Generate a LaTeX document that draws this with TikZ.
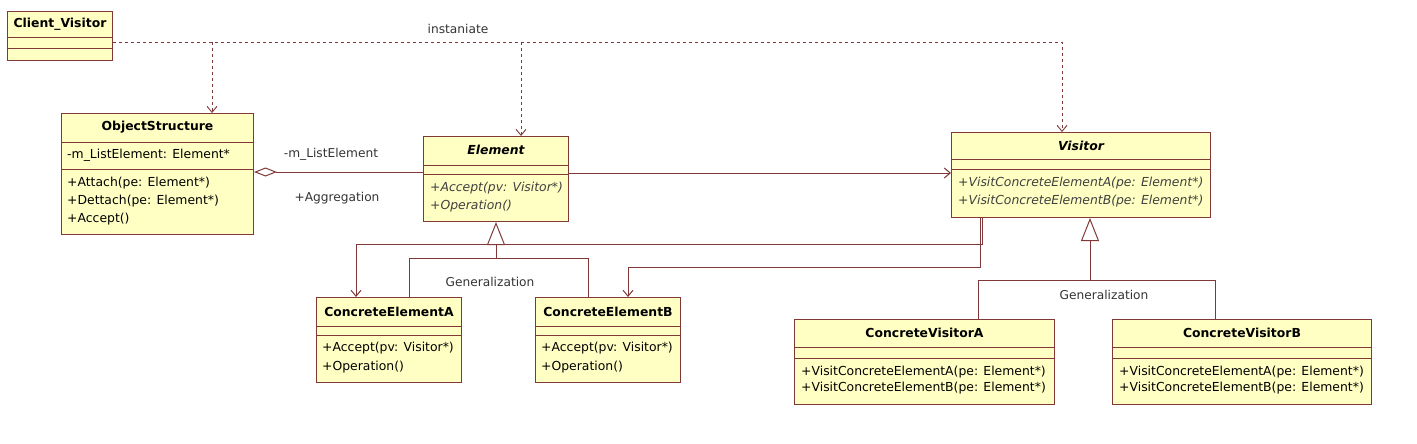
\documentclass[tikz,border=0pt]{standalone}
\usepackage{fontspec}
\setmainfont{DejaVu Sans}
\usetikzlibrary{arrows.meta}
\definecolor{umlfill}{RGB}{255,255,196}
\definecolor{umlline}{RGB}{128,56,56}
\tikzset{
  umlbox/.style={draw=umlline,fill=umlfill,line width=1pt,anchor=north west,inner sep=0pt},
  divider/.style={draw=umlline,line width=1pt},
  title/.style={font=\fontsize{12.4}{15}\selectfont\bfseries,inner sep=0pt},
  member/.style={font=\fontsize{12.4}{15}\selectfont,anchor=west,inner sep=0pt},
  lbl/.style={font=\fontsize{12.2}{15}\selectfont,text=black!80,inner sep=0pt},
  dep/.style={draw=umlline,line width=0.9pt,dash pattern=on 3pt off 3pt,-{Straight Barb[length=6pt,width=10pt]}},
  assoc/.style={draw=umlline,line width=1pt,-{Straight Barb[length=6pt,width=10pt]}},
  gen/.style={draw=umlline,line width=1pt,-{Triangle[open,length=23pt,width=18pt]}},
  aggr/.style={draw=umlline,line width=1pt,{Diamond[open,length=23pt,width=9pt]}-},
}
\begin{document}
\begin{tikzpicture}[x=1pt,y=-1pt]
  \useasboundingbox (0,0) rectangle (1417,444);
  %classes
  \node[umlbox,minimum width=105pt,minimum height=49pt] (client) at (7,11) {};
  \node[title] at ([yshift=-13.5pt]client.north) {Client\_Visitor};

  \node[umlbox,minimum width=192pt,minimum height=121pt] (objstr) at (61,113) {};
  \node[title] at ([yshift=-14.5pt]objstr.north) {ObjectStructure};
  \node[member] at ([xshift=6pt,yshift=-42pt]objstr.north west) {-m\_ListElement: Element*};
  \node[member] at ([xshift=6pt,yshift=-70pt]objstr.north west) {+Attach(pe: Element*)};
  \node[member] at ([xshift=6pt,yshift=-88pt]objstr.north west) {+Dettach(pe: Element*)};
  \node[member] at ([xshift=6pt,yshift=-106pt]objstr.north west) {+Accept()};

  \node[umlbox,minimum width=145pt,minimum height=85pt] (element) at (423,136) {};
  \node[title] at ([yshift=-14pt]element.north) {\itshape Element};
  \node[member,text=black!75] at ([xshift=7pt,yshift=-52pt]element.north west) {\itshape +Accept(pv: Visitor*)};
  \node[member,text=black!75] at ([xshift=7pt,yshift=-70pt]element.north west) {\itshape +Operation()};

  \node[umlbox,minimum width=259pt,minimum height=85pt] (visitor) at (951,132) {};
  \node[title] at ([yshift=-13.5pt]visitor.north) {\itshape Visitor};
  \node[member,text=black!75] at ([xshift=7pt,yshift=-51pt]visitor.north west) {\itshape +VisitConcreteElementA(pe: Element*)};
  \node[member,text=black!75] at ([xshift=7pt,yshift=-69pt]visitor.north west) {\itshape +VisitConcreteElementB(pe: Element*)};

  \node[umlbox,minimum width=145pt,minimum height=85pt] (cea) at (316,297) {};
  \node[title] at ([yshift=-14.5pt]cea.north) {ConcreteElementA};
  \node[member] at ([xshift=6pt,yshift=-51pt]cea.north west) {+Accept(pv: Visitor*)};
  \node[member] at ([xshift=6pt,yshift=-70pt]cea.north west) {+Operation()};

  \node[umlbox,minimum width=145pt,minimum height=85pt] (ceb) at (535,297) {};
  \node[title] at ([yshift=-14.5pt]ceb.north) {ConcreteElementB};
  \node[member] at ([xshift=6pt,yshift=-51pt]ceb.north west) {+Accept(pv: Visitor*)};
  \node[member] at ([xshift=6pt,yshift=-70pt]ceb.north west) {+Operation()};

  \node[umlbox,minimum width=260pt,minimum height=85pt] (cva) at (794,319) {};
  \node[title] at ([yshift=-14pt]cva.north) {ConcreteVisitorA};
  \node[member] at ([xshift=7pt,yshift=-53pt]cva.north west) {+VisitConcreteElementA(pe: Element*)};
  \node[member] at ([xshift=7pt,yshift=-69pt]cva.north west) {+VisitConcreteElementB(pe: Element*)};

  \node[umlbox,minimum width=259pt,minimum height=85pt] (cvb) at (1112,319) {};
  \node[title] at ([yshift=-14pt]cvb.north) {ConcreteVisitorB};
  \node[member] at ([xshift=7pt,yshift=-53pt]cvb.north west) {+VisitConcreteElementA(pe: Element*)};
  \node[member] at ([xshift=7pt,yshift=-69pt]cvb.north west) {+VisitConcreteElementB(pe: Element*)};

  %compartments
  \foreach \n/\a/\b in {client/27/38, objstr/29/56, element/29/38, visitor/27/37, cea/29/38, ceb/29/38, cva/28/39, cvb/28/39} {
    \draw[divider] ([yshift=-\a pt]\n.north west) -- ([yshift=-\a pt]\n.north east);
    \draw[divider] ([yshift=-\b pt]\n.north west) -- ([yshift=-\b pt]\n.north east);
  }

  %instaniate
  \coordinate (inst) at ([yshift=-31pt]client.north east);
  \coordinate (os) at ([xshift=151pt]objstr.north west);
  \coordinate (el) at ([xshift=98pt]element.north west);
  \draw[dep] (inst) -| ([xshift=111pt]visitor.north west);
  \draw[dep] (inst -| os) -- (os);
  \draw[dep] (inst -| el) -- (el);
  \node[lbl] (instlbl) at (458,29) {instaniate};

  %aggregation
  \coordinate (agg) at ([yshift=-59pt]objstr.north east);
  \draw[aggr] (agg) -- (agg -| element.west);
  \node[lbl] (role) at (331,154) {-m\_ListElement};
  \node[lbl] (agglbl) at (337,198) {+Aggregation};

  %associations
  \coordinate (ev) at ([yshift=-37pt]element.north east);
  \draw[assoc] (ev) -- (ev -| visitor.west);
  \draw[assoc] ([xshift=31pt]visitor.south west) -- ++(0,26) -| ([xshift=40pt]cea.north west);
  \draw[assoc] ([xshift=29pt]visitor.south west) -- ++(0,49) -| ([xshift=93pt]ceb.north west);

  %generalization
  \coordinate (gj) at ([yshift=-36pt]element.south);
  \draw[gen] ([xshift=93pt]cea.north west) |- (gj) -- (element.south);
  \draw[divider] ([xshift=53pt]ceb.north west) |- (gj);
  \node[lbl] (genel) at (490,282) {Generalization};

  \coordinate (vj) at ([xshift=9pt,yshift=-62pt]visitor.south);
  \draw[gen] ([xshift=184pt]cva.north west) |- (vj) -- (vj |- visitor.south);
  \draw[divider] ([xshift=103pt]cvb.north west) |- (vj);
  \node[lbl] (genvis) at (1104,295) {Generalization};
\end{tikzpicture}
\end{document}
